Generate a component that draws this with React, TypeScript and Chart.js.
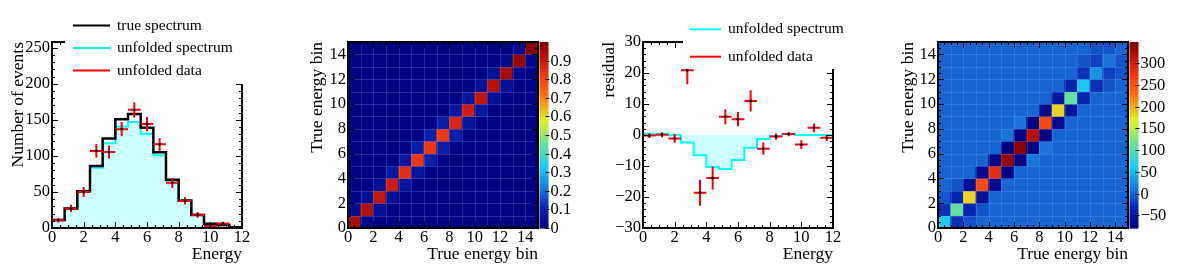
import React, { useEffect, useRef } from 'react';
import { Chart, registerables } from 'chart.js';

Chart.register(...registerables);

const FONT = "'Liberation Serif', 'Times New Roman', Times, serif";
const TICK_SIZE = 16.5;
const TITLE_SIZE = 17.5;
const LEGEND_SIZE = 15.5;

// ---------------- data ----------------
const binEdges = [0, 0.8, 1.6, 2.4, 3.2, 4.0, 4.8, 5.6, 6.4, 7.2, 8.0, 8.8, 9.6, 10.4, 11.2, 12.0];
const binCenters = [0.4, 1.2, 2.0, 2.8, 3.6, 4.4, 5.2, 6.0, 6.8, 7.6, 8.4, 9.2, 10.0, 10.8, 11.6];
const binHalfWidth = [0.4, 0.4, 0.4, 0.4, 0.4, 0.4, 0.4, 0.4, 0.4, 0.4, 0.4, 0.4, 0.4, 0.4, 0.4];

const trueSpectrum = [11, 27, 51, 86, 124, 151, 158, 139, 105, 67, 38, 18, 6, 4, 1];
const unfoldedSpectrum = [11.4, 27.4, 50.9, 83.6, 117.5, 140.7, 147, 130.9, 100.9, 65.7, 37.7, 18.3, 6, 4, 1];
const unfoldedData = [10.8, 27.1, 49.9, 106.9, 105.4, 137.1, 163.9, 144.1, 116, 62.6, 37.5, 18.3, 2.9, 6.3, 0.1];
const unfoldedDataErr = [3, 5, 7, 9.5, 9, 10, 10.5, 10, 9, 7, 5, 4, 2, 2.5, 1];

const residualSpectrum = [0.4, 0.4, -0.1, -2.4, -6.5, -10.3, -11, -8.1, -4.1, -1.3, -0.3, 0.3, 0, 0, 0];
const residualData = [-0.2, 0.1, -1.1, 20.9, -18.6, -13.9, 5.9, 5.1, 11.0, -4.4, -0.5, 0.3, -3.1, 2.3, -0.9];
const residualDataErr = [0.8, 0.8, 1.4, 4.5, 4.2, 3.7, 2.4, 2.3, 3.4, 2.0, 1.0, 0.7, 1.4, 1.4, 1.0];

const matrixBins = 15;
const responseDiag = [0.95, 0.93, 0.9, 0.88, 0.84, 0.82, 0.82, 0.82, 0.86, 0.88, 0.9, 0.92, 0.94, 0.96, 0.99];
const responseOffDiag1 = [0.03, 0.04, 0.05, 0.06, 0.07, 0.08, 0.08, 0.08, 0.07, 0.06, 0.05, 0.04, 0.03, 0.02];
const covDiag = [62, 114, 178, 255, 285, 336, 349, 315, 263, 178, 114, 62, 32, 15, 3];
const covOffDiag1 = [-22, -35, -55, -70, -77, -79, -76, -72, -62, -48, -35, -22, -12, -6];
const covOffDiag2 = [-10, -6, 0, 4, 6, 8, 8, 6, 4, 2, 0, -2, -4];

const responseZRange = [0, 1.0];
const responseZTicks = [0, 0.1, 0.2, 0.3, 0.4, 0.5, 0.6, 0.7, 0.8, 0.9];
const covZRange = [-79, 349];
const covZTicks = [-50, 0, 50, 100, 150, 200, 250, 300];

// ---------------- palette ----------------
const PAL_POS = [0, 0.12, 0.2, 0.33, 0.45, 0.58, 0.72, 0.82, 0.9, 1];
const PAL_RGB = [
  [0, 0, 128], [10, 40, 180], [25, 110, 215], [30, 200, 245], [100, 225, 160],
  [225, 240, 40], [255, 110, 20], [240, 60, 20], [200, 25, 15], [130, 0, 0],
];
const NCOL = 50;
function palette(f: number): string {
  f = Math.max(0, Math.min(1, f));
  let k = 0;
  while (k < PAL_POS.length - 2 && f > PAL_POS[k + 1]) k++;
  const t = (f - PAL_POS[k]) / (PAL_POS[k + 1] - PAL_POS[k]);
  const c = PAL_RGB[k].map((v, i) => Math.round(v + (PAL_RGB[k + 1][i] - v) * t));
  return `rgb(${c[0]},${c[1]},${c[2]})`;
}
function colorFor(v: number, zmin: number, zmax: number): string {
  let k = Math.floor(0.001 + ((v - zmin) / (zmax - zmin)) * NCOL);
  k = Math.max(0, Math.min(NCOL - 1, k));
  return palette((k + 0.5) / NCOL);
}

const fmtNum = (v: number) => String(Math.round(v * 1000) / 1000).replace('-', '\u2212');

const stepPoints = (vals: number[]) =>
  binEdges.map((x, k) => ({ x, y: vals[Math.min(k, vals.length - 1)] }));

function buildCells(diag: number[], off1: number[], off2: number[] | null) {
  const cells: { x: number; y: number[]; v: number }[] = [];
  for (let j = 0; j < matrixBins; j++) {
    for (let i = 0; i < matrixBins; i++) {
      const d = Math.abs(i - j);
      let v = 0;
      if (d === 0) v = diag[i];
      else if (d === 1) v = off1[Math.min(i, j)];
      else if (d === 2 && off2) v = off2[Math.min(i, j)];
      cells.push({ x: i + 0.5, y: [j, j + 1], v });
    }
  }
  return cells;
}

// ---------------- plugins ----------------
const errorBarsPlugin = {
  id: 'errorBars',
  beforeDatasetDraw(chart: any, args: any) {
    const ds = chart.data.datasets[args.index];
    if (!ds.errY) return;
    const { ctx } = chart;
    const xs = chart.scales.x, ys = chart.scales.y;
    ctx.save();
    ctx.strokeStyle = ds.errColor;
    ctx.lineWidth = 2;
    ctx.beginPath();
    ds.data.forEach((p: any, k: number) => {
      const ex = ds.errX[k], ey = ds.errY[k];
      const xc = xs.getPixelForValue(p.x), yc = ys.getPixelForValue(p.y);
      ctx.moveTo(xs.getPixelForValue(p.x - ex), yc);
      ctx.lineTo(xs.getPixelForValue(p.x + ex), yc);
      ctx.moveTo(xc, ys.getPixelForValue(p.y - ey));
      ctx.lineTo(xc, ys.getPixelForValue(p.y + ey));
    });
    ctx.stroke();
    ctx.restore();
  },
};

function framePlugin(cfg: { xMajor: number; xMinor: number; yMajor: number; yMinor: number; cellGrid?: string }) {
  return {
    id: 'rootFrame',
    afterDatasetsDraw(chart: any) {
      const { ctx, chartArea: a } = chart;
      const xs = chart.scales.x, ys = chart.scales.y;
      ctx.save();
      if (cfg.cellGrid) {
        ctx.strokeStyle = cfg.cellGrid;
        ctx.lineWidth = 1;
        ctx.beginPath();
        for (let v = xs.min + 1; v < xs.max; v += 1) {
          const p = Math.round(xs.getPixelForValue(v)) + 0.5;
          ctx.moveTo(p, a.top); ctx.lineTo(p, a.bottom);
        }
        for (let v = ys.min + 1; v < ys.max; v += 1) {
          const p = Math.round(ys.getPixelForValue(v)) + 0.5;
          ctx.moveTo(a.left, p); ctx.lineTo(a.right, p);
        }
        ctx.stroke();
      }
      const isMajor = (v: number, step: number) => Math.abs(v / step - Math.round(v / step)) < 1e-6;
      ctx.strokeStyle = '#000';
      ctx.lineWidth = 1;
      ctx.beginPath();
      const nx = Math.floor((xs.max - xs.min) / cfg.xMinor + 1e-6);
      for (let k = 0; k <= nx; k++) {
        const v = xs.min + k * cfg.xMinor;
        const len = isMajor(v, cfg.xMajor) ? 6 : 3;
        const p = Math.round(xs.getPixelForValue(v)) + 0.5;
        ctx.moveTo(p, a.bottom); ctx.lineTo(p, a.bottom - len);
        ctx.moveTo(p, a.top); ctx.lineTo(p, a.top + len);
      }
      const ny = Math.floor((ys.max - ys.min) / cfg.yMinor + 1e-6);
      for (let k = 0; k <= ny; k++) {
        const v = ys.min + k * cfg.yMinor;
        const len = isMajor(v, cfg.yMajor) ? 6 : 3;
        const p = Math.round(ys.getPixelForValue(v)) + 0.5;
        ctx.moveTo(a.left, p); ctx.lineTo(a.left + len, p);
        ctx.moveTo(a.right, p); ctx.lineTo(a.right - len, p);
      }
      ctx.stroke();
      ctx.lineWidth = 2;
      ctx.strokeRect(a.left, a.top, a.right - a.left, a.bottom - a.top);
      ctx.restore();
    },
  };
}

function legendPlugin(cfg: { box: number[]; lineX: number[]; textX: number; rows: number[]; items: number[] }) {
  return {
    id: 'rootLegend',
    afterDraw(chart: any) {
      const { ctx } = chart;
      ctx.save();
      ctx.fillStyle = '#fff';
      ctx.fillRect(cfg.box[0], cfg.box[1], cfg.box[2] - cfg.box[0], cfg.box[3] - cfg.box[1]);
      ctx.font = `${LEGEND_SIZE}px ${FONT}`;
      ctx.textBaseline = 'middle';
      ctx.textAlign = 'left';
      cfg.items.forEach((idx, k) => {
        const ds = chart.data.datasets[idx];
        const y = cfg.rows[k];
        ctx.strokeStyle = ds.legendColor;
        ctx.lineWidth = 2;
        ctx.beginPath();
        ctx.moveTo(cfg.lineX[0], y);
        ctx.lineTo(cfg.lineX[1], y);
        ctx.stroke();
        ctx.fillStyle = '#000';
        ctx.fillText(ds.label, cfg.textX, y);
      });
      ctx.restore();
    },
  };
}

function colorBarPlugin(cfg: { zMin: number; zMax: number; ticks: number[]; fmt: (v: number) => string }) {
  return {
    id: 'colorBar',
    afterDraw(chart: any) {
      const { ctx, chartArea: a } = chart;
      const zs = chart.scales.z;
      const x0 = a.right + 1.5;
      const w = 9;
      ctx.save();
      for (let k = 0; k < NCOL; k++) {
        const v0 = cfg.zMin + (k * (cfg.zMax - cfg.zMin)) / NCOL;
        const v1 = cfg.zMin + ((k + 1) * (cfg.zMax - cfg.zMin)) / NCOL;
        const p0 = zs.getPixelForValue(v0), p1 = zs.getPixelForValue(v1);
        ctx.fillStyle = palette((k + 0.5) / NCOL);
        ctx.fillRect(x0, p1, w, p0 - p1 + 0.6);
      }
      ctx.strokeStyle = '#000';
      ctx.lineWidth = 1;
      ctx.font = `${TICK_SIZE}px ${FONT}`;
      ctx.fillStyle = '#000';
      ctx.textAlign = 'left';
      ctx.textBaseline = 'middle';
      cfg.ticks.forEach((t) => {
        const p = Math.round(zs.getPixelForValue(t)) + 0.5;
        ctx.beginPath();
        ctx.moveTo(x0 + w - 3, p);
        ctx.lineTo(x0 + w + 1, p);
        ctx.stroke();
        ctx.fillText(cfg.fmt(t), x0 + w + 2, p);
      });
      ctx.restore();
    },
  };
}

// ---------------- config helpers ----------------
function axis(o: { min: number; max: number; step: number; title: string; titlePad: number; isX: boolean }) {
  return {
    type: 'linear',
    min: o.min,
    max: o.max,
    offset: false,
    ticks: {
      stepSize: o.step,
      includeBounds: false,
      autoSkip: false,
      maxRotation: 0,
      padding: o.isX ? 0 : 2,
      color: '#000',
      font: { family: FONT, size: TICK_SIZE },
      callback: (v: number) => fmtNum(v),
    },
    grid: { display: false, drawTicks: false },
    border: { display: false },
    title: {
      display: true,
      text: o.title,
      align: 'end',
      color: '#000',
      font: { family: FONT, size: TITLE_SIZE },
      padding: o.isX ? { top: 0, bottom: o.titlePad } : { top: o.titlePad, bottom: 0 },
    },
    afterFit: (s: any) => {
      if (o.isX) s.height = 43;
      else s.width = 52;
    },
  };
}

const baseOptions = (scales: any) => ({
  responsive: false,
  maintainAspectRatio: false,
  animation: false,
  devicePixelRatio: 1,
  events: [],
  layout: { padding: { left: 0, top: 42, right: 54, bottom: 0 } },
  plugins: { legend: { display: false }, tooltip: { enabled: false } },
  scales,
});

function spectrumConfig(): any {
  return {
    type: 'line',
    data: {
      datasets: [
        {
          label: 'unfolded data',
          data: binCenters.map((x, k) => ({ x, y: unfoldedData[k] })),
          showLine: false,
          pointRadius: 1.4,
          pointBackgroundColor: '#000',
          pointBorderWidth: 0,
          errX: binHalfWidth,
          errY: unfoldedDataErr,
          errColor: '#ff0000',
          legendColor: '#ff0000',
          order: 0,
        },
        {
          label: 'true spectrum',
          data: stepPoints(trueSpectrum),
          stepped: true,
          borderColor: '#000',
          borderWidth: 2.5,
          pointRadius: 0,
          fill: false,
          legendColor: '#000',
          order: 1,
        },
        {
          label: 'unfolded spectrum',
          data: stepPoints(unfoldedSpectrum),
          stepped: true,
          borderColor: '#00ffff',
          borderWidth: 2,
          pointRadius: 0,
          fill: 'origin',
          backgroundColor: '#ccffff',
          legendColor: '#00ffff',
          order: 2,
        },
      ],
    },
    options: baseOptions({
      x: axis({ min: 0, max: 12, step: 2, title: 'Energy', titlePad: 6.5, isX: true }),
      y: axis({ min: 0, max: 258, step: 50, title: 'Number of events', titlePad: 7.6, isX: false }),
    }),
    plugins: [
      errorBarsPlugin,
      framePlugin({ xMajor: 2, xMinor: 0.5, yMajor: 50, yMinor: 10 }),
      legendPlugin({ box: [65, 0, 296, 84], lineX: [73, 110], textX: 117, rows: [25.5, 48, 70.5], items: [1, 2, 0] }),
    ],
  };
}

function residualConfig(): any {
  return {
    type: 'line',
    data: {
      datasets: [
        {
          label: 'unfolded data',
          data: binCenters.map((x, k) => ({ x, y: residualData[k] })),
          showLine: false,
          pointRadius: 1.4,
          pointBackgroundColor: '#000',
          pointBorderWidth: 0,
          errX: binHalfWidth,
          errY: residualDataErr,
          errColor: '#ff0000',
          legendColor: '#ff0000',
          order: 0,
        },
        {
          label: 'unfolded spectrum',
          data: stepPoints(residualSpectrum),
          stepped: true,
          borderColor: '#00ffff',
          borderWidth: 2,
          pointRadius: 0,
          fill: 'origin',
          backgroundColor: '#ccffff',
          legendColor: '#00ffff',
          order: 1,
        },
      ],
    },
    options: baseOptions({
      x: axis({ min: 0, max: 12, step: 2, title: 'Energy', titlePad: 6.5, isX: true }),
      y: axis({ min: -30, max: 30, step: 10, title: 'residual', titlePad: 8.3, isX: false }),
    }),
    plugins: [
      errorBarsPlugin,
      framePlugin({ xMajor: 2, xMinor: 0.5, yMajor: 10, yMinor: 2 }),
      legendPlugin({ box: [92, 0, 296, 69], lineX: [99, 130], textX: 137, rows: [29.3, 56.7], items: [1, 0] }),
    ],
  };
}

function matrixConfig(
  label: string,
  cells: { x: number; y: number[]; v: number }[],
  zRange: number[],
  zTicks: number[],
  zFmt: (v: number) => string,
  titlePad: number
): any {
  return {
    type: 'bar',
    data: {
      datasets: [
        {
          label,
          data: cells.map((c) => ({ x: c.x, y: c.y })),
          backgroundColor: cells.map((c) => colorFor(c.v, zRange[0], zRange[1])),
          borderWidth: 0,
          grouped: false,
          barPercentage: 1,
          categoryPercentage: 1,
        },
      ],
    },
    options: baseOptions({
      x: axis({ min: 0, max: matrixBins, step: 2, title: 'True energy bin', titlePad: 6.5, isX: true }),
      y: axis({ min: 0, max: matrixBins, step: 2, title: 'True energy bin', titlePad, isX: false }),
      z: { type: 'linear', display: false, position: 'right', min: zRange[0], max: zRange[1] },
    }),
    plugins: [
      framePlugin({ xMajor: 2, xMinor: 0.5, yMajor: 2, yMinor: 0.5, cellGrid: 'rgba(150,180,255,0.22)' }),
      colorBarPlugin({ zMin: zRange[0], zMax: zRange[1], ticks: zTicks, fmt: zFmt }),
    ],
  };
}

const PANEL_LEFT = [0, 296, 591, 886];
const PANEL_W = 296;
const PANEL_H = 271;

export default function App() {
  const refs = [useRef<HTMLCanvasElement>(null), useRef<HTMLCanvasElement>(null), useRef<HTMLCanvasElement>(null), useRef<HTMLCanvasElement>(null)];

  useEffect(() => {
    Chart.defaults.font.family = FONT;
    Chart.defaults.color = '#000';
    const configs = [
      spectrumConfig(),
      matrixConfig('response', buildCells(responseDiag, responseOffDiag1, null), responseZRange, responseZTicks, (v) => (v === 0 ? '0' : v.toFixed(1)), 11),
      residualConfig(),
      matrixConfig('covariance', buildCells(covDiag, covOffDiag1, covOffDiag2), covZRange, covZTicks, fmtNum, 11.6),
    ];
    const charts = configs.map((cfg, i) => new Chart(refs[i].current as HTMLCanvasElement, cfg));
    return () => charts.forEach((c) => c.destroy());
  }, []);

  return (
    <div style={{ position: 'absolute', left: 0, top: 0, width: 1182, height: 271, background: '#fff', overflow: 'hidden' }}>
      {PANEL_LEFT.map((left, i) => (
        <canvas
          key={i}
          ref={refs[i]}
          width={PANEL_W}
          height={PANEL_H}
          style={{ position: 'absolute', left, top: 0, width: PANEL_W, height: PANEL_H }}
        />
      ))}
    </div>
  );
}
